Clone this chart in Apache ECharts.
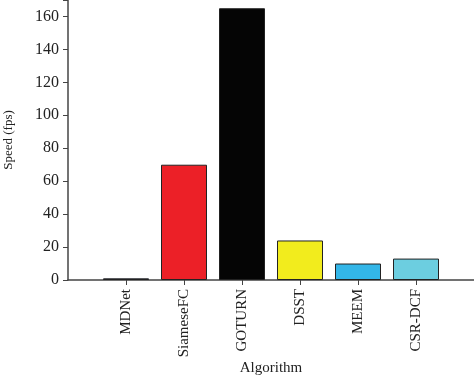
<!DOCTYPE html>
<html><head><meta charset="utf-8">
<script src="https://cdn.jsdelivr.net/npm/echarts@6/dist/echarts.min.js"></script>
<style>html,body{margin:0;padding:0;background:#fff}#c{width:474px;height:379px}</style>
</head><body><div id="c"></div>
<script>
var categories = ['', 'MDNet', 'SiameseFC', 'GOTURN', 'DSST', 'MEEM', 'CSR-DCF', ''];
var speeds = [null, 1, 70, 165, 24, 10, 13, null];
var barColors = ['#fff', '#1b2654', '#ec2027', '#050505', '#f2ec1d', '#33b6e8', '#6ccee0', '#fff'];
var yTicks = [0, 20, 40, 60, 80, 100, 120, 140, 160];

var font = 'Liberation Serif';
var chart = echarts.init(document.getElementById('c'));
chart.setOption({
  animation: false,
  grid: {left: 68, right: 0, top: 0, bottom: 99, containLabel: false, outerBoundsMode: 'none'},
  xAxis: {
    type: 'category', data: categories, boundaryGap: false,
    name: 'Algorithm', nameLocation: 'middle', nameGap: 81, nameMoveOverlap: false,
    nameTextStyle: {fontFamily: font, fontSize: 15, color: '#222', verticalAlign: 'top'},
    axisLine: {lineStyle: {color: '#444', width: 1.5}},
    axisTick: {show: true, length: 5, lineStyle: {color: '#444'}, interval: function(i){return i>0 && i<7;}},
    axisLabel: {rotate: 90, fontFamily: font, fontSize: 15, color: '#222', margin: 9, interval: 0},
    splitLine: {show: false}
  },
  yAxis: {
    type: 'value', min: 0, max: 170, interval: 20,
    name: 'Speed (fps)', nameLocation: 'middle', nameGap: 53, nameRotate: 90, nameMoveOverlap: false,
    nameTextStyle: {fontFamily: font, fontSize: 13, color: '#222'},
    axisLine: {show: true, lineStyle: {color: '#444', width: 1.5}},
    axisTick: {show: true, length: 5, lineStyle: {color: '#444'}},
    axisLabel: {fontFamily: font, fontSize: 16, color: '#222', margin: 9,
      formatter: function(v){return yTicks.indexOf(v) >= 0 ? String(v) : '';}},
    splitLine: {show: false}
  },
  series: [{
    type: 'bar', barWidth: 46,
    data: speeds.map(function(v, i){
      return {value: v, itemStyle: {color: barColors[i], borderColor: '#222', borderWidth: 1}};
    })
  }]
});
</script></body></html>
